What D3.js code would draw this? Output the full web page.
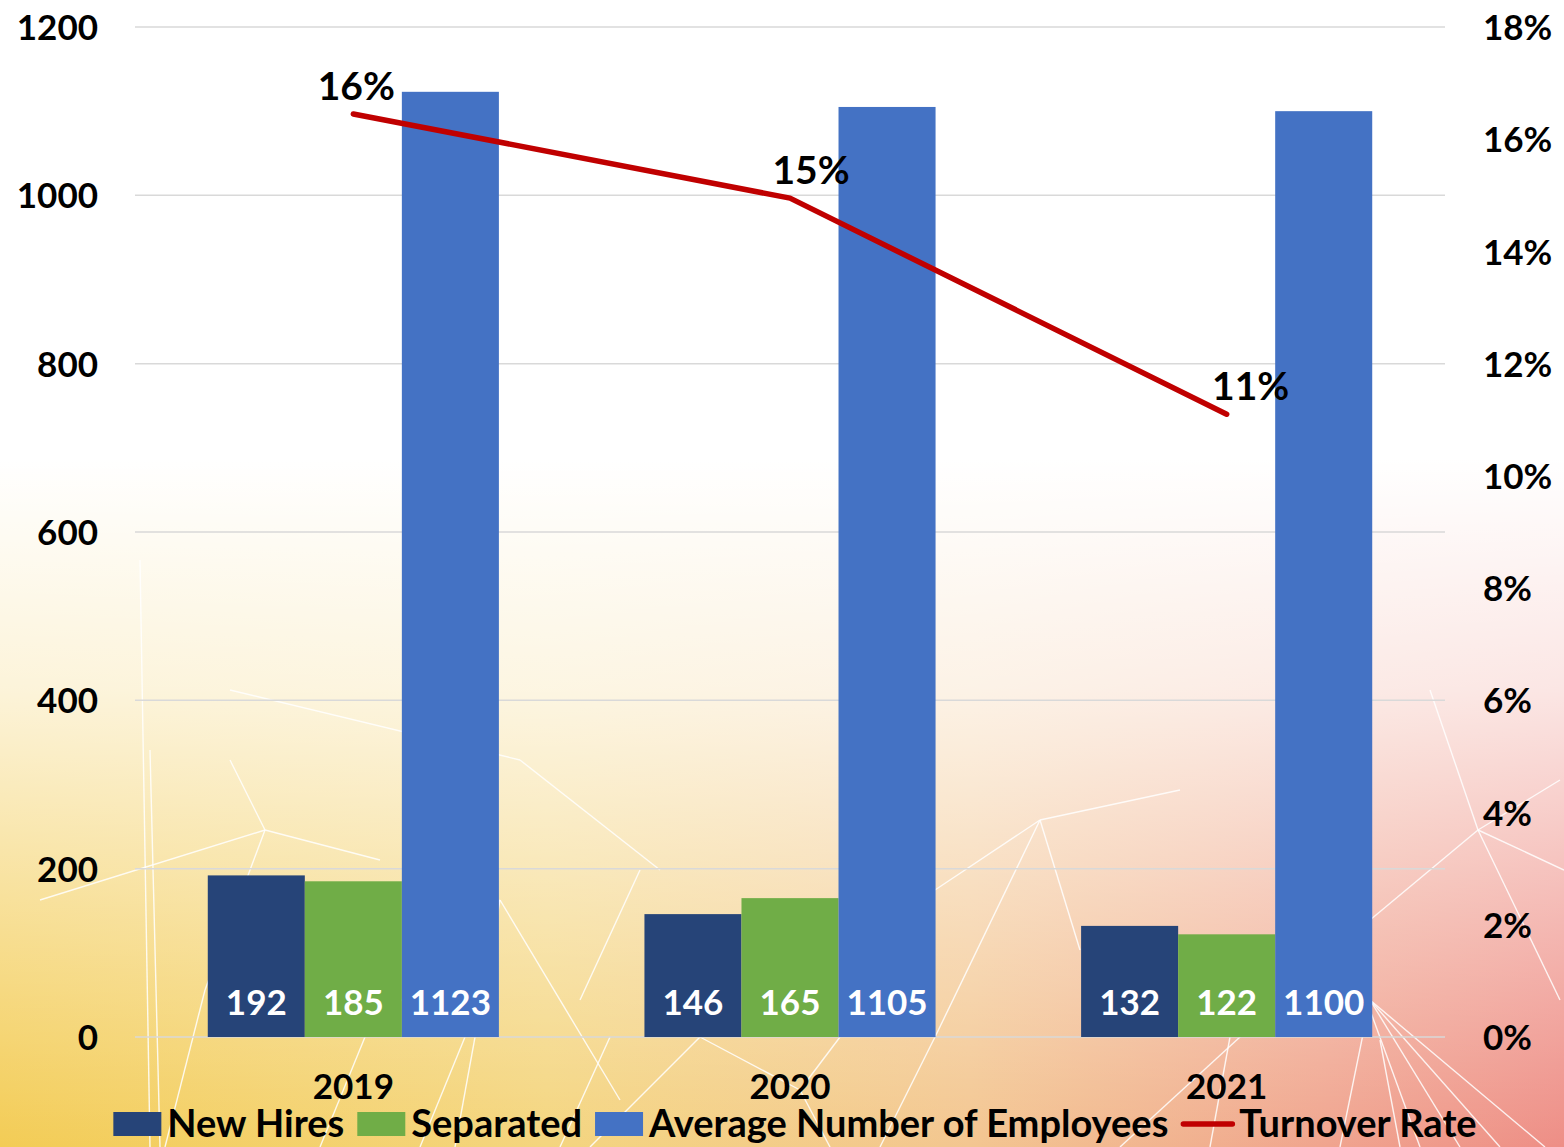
<!DOCTYPE html>
<html>
<head>
<meta charset="utf-8">
<script src="https://cdn.jsdelivr.net/npm/d3@7"></script>
<style>
  html, body { margin: 0; padding: 0; background: #ffffff; }
  svg { display: block; }
  text { font-family: Lato, "Open Sans", "DejaVu Sans", sans-serif; font-weight: 700; }
</style>
</head>
<body>
<svg id="chart" width="1564" height="1147"></svg>
<script>
// ---- data ----
const years = ["2019", "2020", "2021"];
const newHires = [192, 146, 132];
const separated = [185, 165, 122];
const avgEmployees = [1123, 1105, 1100];
const turnoverRate = [0.1645, 0.1495, 0.111];
const leftTicks = [0, 200, 400, 600, 800, 1000, 1200];
const rightTicks = [0, 0.02, 0.04, 0.06, 0.08, 0.10, 0.12, 0.14, 0.16, 0.18];

const seriesNames = ["New Hires", "Separated", "Average Number of Employees"];
const seriesColors = ["#264478", "#70ad47", "#4472c4"];
const lineName = "Turnover Rate";
const lineColor = "#c00000";

const W = 1564, H = 1147;
const plot = { left: 135, right: 1445, top: 27, bottom: 1037 };
const FONT = "Lato, 'Open Sans', sans-serif";

const svg = d3.select("#chart");

// ---- background wash ----
const defs = svg.append("defs");
const hGrad = defs.append("linearGradient").attr("id", "warm").attr("x1", 0).attr("x2", 1).attr("y1", 0).attr("y2", 0);
[["0%", "#f3cc55"], ["35%", "#f4d57e"], ["62%", "#f3c690"], ["85%", "#f0a48e"], ["100%", "#ee8e86"]]
  .forEach(([o, c]) => hGrad.append("stop").attr("offset", o).attr("stop-color", c));
const vGrad = defs.append("linearGradient").attr("id", "fade").attr("x1", 0).attr("x2", 0).attr("y1", 0).attr("y2", 1);
[["0%", 1], ["40%", 1], ["60%", 0.78], ["80%", 0.38], ["100%", 0.0]]
  .forEach(([o, a]) => vGrad.append("stop").attr("offset", o).attr("stop-color", "#ffffff").attr("stop-opacity", a));

svg.append("rect").attr("width", W).attr("height", H).attr("fill", "url(#warm)");
svg.append("rect").attr("width", W).attr("height", H).attr("fill", "url(#fade)");

// faint faceted lines in the background
const facetLines = [
  [[150, 1147], [140, 560]], [[160, 1147], [150, 750]],
  [[165, 1147], [205, 990]], [[205, 990], [265, 830]], [[265, 830], [380, 860]],
  [[265, 830], [230, 760]], [[265, 830], [40, 900]],
  [[320, 1147], [365, 1037]], [[365, 1037], [500, 900]], [[500, 900], [620, 1100]],
  [[420, 1147], [465, 1037]], [[455, 1147], [500, 900]],
  [[560, 1147], [610, 1037]], [[590, 1147], [700, 1037]], [[700, 1037], [800, 1090]],
  [[800, 1090], [830, 1147]], [[800, 1090], [840, 1037]], [[660, 870], [520, 760]],
  [[580, 1000], [640, 870]], [[520, 760], [230, 690]],
  [[880, 1147], [935, 1037]], [[935, 1037], [1040, 820]], [[1040, 820], [1080, 950]],
  [[1040, 820], [935, 890]], [[1120, 1147], [1240, 1037]], [[1240, 1037], [1275, 990]],
  [[1040, 820], [1180, 790]],
  [[1210, 1147], [1230, 1037]], [[1340, 1147], [1370, 1000]],
  [[1370, 1000], [1460, 1147]], [[1370, 1000], [1500, 1147]], [[1370, 1000], [1545, 1147]],
  [[1370, 1010], [1420, 1147]], [[1370, 920], [1478, 830]], [[1478, 830], [1560, 780]],
  [[1478, 830], [1430, 690]], [[1478, 830], [1564, 870]], [[1478, 830], [1560, 1000]],
  [[1400, 1147], [1380, 1040]]
];
svg.append("g").attr("class", "facets")
  .selectAll("line").data(facetLines).join("line")
  .attr("x1", d => d[0][0]).attr("y1", d => d[0][1])
  .attr("x2", d => d[1][0]).attr("y2", d => d[1][1])
  .attr("stroke", "#ffffff").attr("stroke-width", 1.4).attr("stroke-opacity", 0.85);

// ---- scales ----
const x0 = d3.scaleBand().domain(years).range([plot.left, plot.right])
  .paddingInner(1 / 3).paddingOuter(1 / 6);
const x1 = d3.scaleBand().domain(d3.range(seriesNames.length)).range([0, x0.bandwidth()]);
const yL = d3.scaleLinear().domain([0, 1200]).range([plot.bottom, plot.top]);
const yR = d3.scaleLinear().domain([0, 0.18]).range([plot.bottom, plot.top]);

// ---- gridlines ----
svg.append("g")
  .selectAll("line").data(leftTicks).join("line")
  .attr("x1", plot.left).attr("x2", plot.right)
  .attr("y1", d => yL(d)).attr("y2", d => yL(d))
  .attr("stroke", "#d9d9d9").attr("stroke-width", 1.5);

// ---- axes (labels only) ----
function styleAxis(g) {
  g.select(".domain").remove();
  g.selectAll("text").attr("font-size", 35).attr("fill", "#000").attr("dy", "0.36em")
    .style("font-family", FONT).style("font-weight", 700);
}
svg.append("g").attr("transform", `translate(${98},0)`)
  .call(d3.axisLeft(yL).tickValues(leftTicks).tickSize(0).tickPadding(0).tickFormat(d3.format("d")))
  .call(styleAxis);
svg.append("g").attr("transform", `translate(${1483},0)`)
  .call(d3.axisRight(yR).tickValues(rightTicks).tickSize(0).tickPadding(0).tickFormat(d3.format(".0%")))
  .call(styleAxis);
svg.append("g").attr("transform", `translate(0,${1086})`)
  .call(d3.axisBottom(x0).tickSize(0).tickPadding(0))
  .call(styleAxis);

// ---- bars ----
const seriesValues = [newHires, separated, avgEmployees];
const barData = [];
years.forEach((yr, i) => {
  seriesValues.forEach((vals, s) => barData.push({ year: yr, s, value: vals[i] }));
});

const bars = svg.append("g").selectAll("g").data(barData).join("g")
  .attr("transform", d => `translate(${x0(d.year) + x1(d.s)},0)`);
bars.append("rect")
  .attr("x", 0).attr("width", x1.bandwidth())
  .attr("y", d => yL(d.value)).attr("height", d => yL(0) - yL(d.value))
  .attr("fill", d => seriesColors[d.s]);
bars.append("text")
  .attr("x", x1.bandwidth() / 2).attr("y", yL(0) - 22)
  .attr("text-anchor", "middle").attr("font-size", 35).attr("fill", "#ffffff")
  .text(d => d3.format("d")(d.value));

// ---- turnover line ----
const linePts = years.map((yr, i) => ({ x: x0(yr) + x0.bandwidth() / 2, y: yR(turnoverRate[i]), v: turnoverRate[i] }));
svg.append("path")
  .datum(linePts)
  .attr("d", d3.line().x(d => d.x).y(d => d.y))
  .attr("fill", "none").attr("stroke", lineColor).attr("stroke-width", 5.5)
  .attr("stroke-linecap", "round").attr("stroke-linejoin", "round");

const labelNudge = [3, 21, 24];
svg.append("g").selectAll("text").data(linePts).join("text")
  .attr("x", (d, i) => d.x + labelNudge[i]).attr("y", d => d.y - 14)
  .attr("text-anchor", "middle").attr("font-size", 39).attr("fill", "#000")
  .text(d => d3.format(".0%")(d.v));

// ---- legend ----
const legend = svg.append("g").attr("class", "legend");
const legendItems = seriesNames.map((n, i) => ({ name: n, color: seriesColors[i], type: "rect" }))
  .concat([{ name: lineName, color: lineColor, type: "line" }]);
let cx = 0;
const ly = 1123;
legendItems.forEach(item => {
  const g = legend.append("g").attr("transform", `translate(${cx},0)`);
  const sw = item.type === "rect" ? 48 : 52;
  if (item.type === "rect") {
    g.append("rect").attr("x", 0).attr("y", ly - 11).attr("width", sw).attr("height", 24).attr("fill", item.color);
  } else {
    g.append("line").attr("x1", 2).attr("x2", sw - 1).attr("y1", ly + 1).attr("y2", ly + 1)
      .attr("stroke", item.color).attr("stroke-width", 5.5).attr("stroke-linecap", "round");
  }
  const t = g.append("text").attr("x", sw + 6).attr("y", ly).attr("dy", "0.36em")
    .attr("font-size", 38).attr("fill", "#000").text(item.name);
  cx += sw + 6 + t.node().getComputedTextLength() + 13;
});
const legendWidth = cx - 13;
legend.attr("transform", `translate(${795 - legendWidth / 2},0)`);
</script>
</body>
</html>
